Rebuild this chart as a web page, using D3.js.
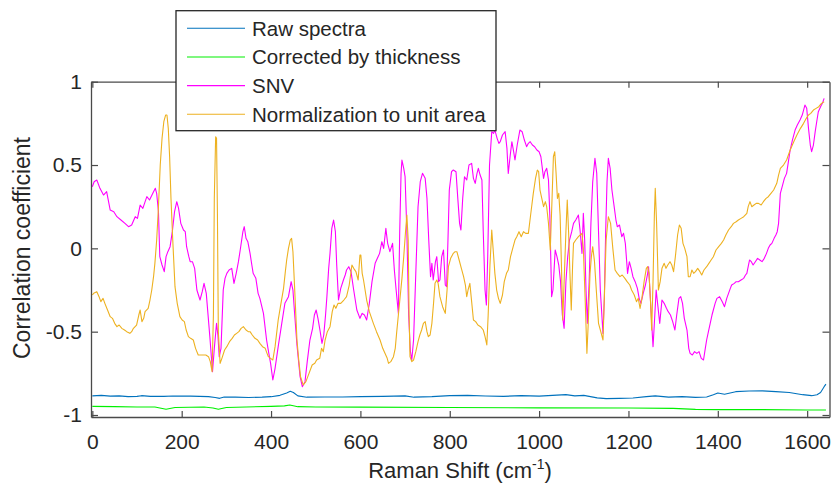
<!DOCTYPE html>
<html>
<head>
<meta charset="utf-8">
<script src="https://cdn.jsdelivr.net/npm/d3@7"></script>
<style>
  body { margin: 0; background: #fff; }
  svg text { font-family: "Liberation Sans", Arial, Helvetica, sans-serif; fill: #262626; }
</style>
</head>
<body>
<div id="chart"></div>
<script>
// series: [Raman shift, correlation coefficient]
var rawSpectra = [[0,-0.885],[20,-0.882],[40,-0.887],[60,-0.885],[80,-0.89],[100,-0.888],[110,-0.884],[130,-0.888],[160,-0.888],[180,-0.886],[220,-0.887],[260,-0.89],[275,-0.895],[285,-0.9],[295,-0.892],[320,-0.893],[350,-0.895],[380,-0.893],[400,-0.89],[420,-0.882],[435,-0.868],[443,-0.858],[450,-0.865],[460,-0.885],[480,-0.893],[520,-0.892],[560,-0.892],[600,-0.89],[650,-0.888],[700,-0.885],[720,-0.893],[760,-0.89],[800,-0.884],[840,-0.882],[880,-0.886],[920,-0.888],[960,-0.884],[1000,-0.887],[1030,-0.882],[1060,-0.878],[1080,-0.885],[1100,-0.882],[1130,-0.897],[1150,-0.902],[1180,-0.9],[1210,-0.898],[1240,-0.89],[1260,-0.885],[1290,-0.893],[1320,-0.89],[1350,-0.894],[1375,-0.892],[1390,-0.878],[1400,-0.868],[1415,-0.875],[1440,-0.86],[1470,-0.856],[1500,-0.855],[1530,-0.86],[1560,-0.865],[1590,-0.878],[1610,-0.884],[1622,-0.878],[1630,-0.865],[1638,-0.83],[1642,-0.815]];

var thickness = [[0,-0.948],[50,-0.95],[100,-0.952],[140,-0.952],[165,-0.965],[185,-0.955],[250,-0.952],[270,-0.958],[282,-0.966],[300,-0.955],[400,-0.948],[430,-0.945],[442,-0.94],[460,-0.95],[500,-0.952],[600,-0.953],[800,-0.955],[1000,-0.957],[1200,-0.958],[1300,-0.96],[1350,-0.966],[1400,-0.968],[1500,-0.968],[1600,-0.97],[1642,-0.97]];

var snv = [[0,0.37],[4,0.40],[10,0.41],[17,0.36],[25,0.32],[32,0.34],[40,0.23],[48,0.22],[55,0.19],[64,0.17],[73,0.15],[81,0.13],[88,0.14],[96,0.19],[101,0.18],[107,0.26],[113,0.24],[122,0.31],[128,0.29],[137,0.34],[141,0.36],[144,0.33],[148,0.22],[151,-0.05],[156,-0.10],[161,-0.14],[165,-0.05],[169,-0.02],[174,0.01],[179,0.10],[184,0.22],[189,0.28],[193,0.24],[198,0.15],[204,0.11],[208,0.10],[211,0.01],[216,-0.05],[219,-0.08],[224,-0.08],[229,-0.12],[234,-0.25],[241,-0.31],[246,-0.26],[250,-0.21],[255,-0.27],[259,-0.40],[263,-0.53],[269,-0.74],[273,-0.60],[278,-0.45],[281,-0.52],[284,-0.65],[288,-0.60],[293,-0.25],[297,-0.18],[301,-0.15],[306,-0.13],[312,-0.12],[317,-0.21],[322,-0.15],[327,-0.08],[331,-0.01],[337,0.10],[340,0.13],[344,0.06],[348,0.04],[353,-0.03],[357,-0.10],[360,-0.15],[366,-0.18],[371,-0.27],[375,-0.30],[383,-0.39],[390,-0.55],[395,-0.63],[399,-0.69],[404,-0.79],[409,-0.72],[416,-0.59],[424,-0.45],[431,-0.33],[439,-0.29],[445,-0.20],[449,-0.25],[453,-0.40],[458,-0.58],[465,-0.77],[470,-0.83],[476,-0.80],[481,-0.68],[487,-0.55],[493,-0.48],[497,-0.40],[501,-0.37],[505,-0.42],[510,-0.50],[514,-0.57],[518,-0.52],[522,-0.40],[525,-0.29],[529,-0.12],[532,-0.03],[536,0.12],[540,0.17],[544,0.10],[547,-0.10],[551,-0.31],[556,-0.24],[562,-0.19],[566,-0.16],[569,-0.13],[574,-0.11],[579,-0.14],[585,-0.25],[592,-0.37],[599,-0.42],[604,-0.39],[609,-0.40],[614,-0.43],[620,-0.33],[626,-0.20],[633,-0.09],[638,-0.06],[643,-0.03],[648,0.04],[652,0.00],[657,0.12],[661,0.03],[666,-0.02],[672,0.03],[676,-0.13],[680,-0.25],[685,-0.39],[688,0.10],[691,0.45],[693,0.53],[697,0.48],[700,0.43],[704,0.10],[708,-0.40],[712,-0.62],[715,-0.67],[719,-0.55],[724,-0.15],[729,0.25],[734,0.40],[739,0.45],[745,0.42],[749,0.30],[753,0.05],[757,-0.17],[760,-0.09],[763,-0.19],[768,-0.08],[771,-0.05],[775,-0.20],[778,-0.19],[782,-0.05],[786,-0.01],[790,-0.22],[793,-0.23],[796,0.05],[799,0.35],[804,0.46],[808,0.47],[814,0.46],[818,0.30],[822,0.15],[825,0.11],[829,0.30],[833,0.43],[838,0.41],[843,0.50],[849,0.51],[853,0.42],[857,0.39],[861,0.45],[864,0.48],[868,0.44],[872,0.41],[875,0.10],[879,-0.25],[882,-0.34],[885,-0.05],[889,0.50],[894,0.70],[898,0.69],[901,0.71],[906,0.66],[910,0.63],[913,0.64],[918,0.68],[924,0.70],[928,0.60],[931,0.45],[935,0.55],[939,0.64],[943,0.58],[946,0.53],[951,0.62],[957,0.71],[962,0.70],[967,0.65],[972,0.61],[976,0.63],[980,0.64],[985,0.62],[990,0.61],[995,0.59],[1000,0.58],[1004,0.55],[1010,0.42],[1013,0.46],[1017,0.48],[1021,0.41],[1024,0.20],[1028,-0.29],[1031,-0.25],[1036,-0.01],[1040,-0.05],[1044,-0.10],[1048,-0.20],[1052,-0.40],[1056,-0.48],[1060,-0.20],[1064,-0.05],[1068,0.05],[1073,0.10],[1077,0.15],[1082,0.17],[1088,0.20],[1092,0.10],[1096,-0.03],[1099,0.21],[1102,0.05],[1105,-0.25],[1108,-0.45],[1112,-0.20],[1116,0.15],[1120,0.40],[1125,0.54],[1129,0.45],[1133,0.10],[1137,-0.25],[1143,-0.51],[1146,-0.30],[1149,0.10],[1152,0.40],[1155,0.54],[1159,0.48],[1163,0.35],[1168,0.25],[1172,0.17],[1175,0.13],[1180,0.14],[1185,0.07],[1189,0.09],[1193,0.03],[1198,-0.15],[1202,-0.08],[1206,-0.12],[1210,-0.17],[1215,-0.20],[1220,-0.24],[1224,-0.30],[1228,-0.33],[1233,-0.27],[1238,-0.22],[1243,-0.15],[1245,-0.11],[1248,-0.25],[1252,-0.45],[1255,-0.59],[1258,-0.45],[1262,-0.25],[1266,-0.35],[1270,-0.45],[1275,-0.31],[1280,-0.33],[1285,-0.36],[1289,-0.38],[1294,-0.40],[1299,-0.44],[1304,-0.49],[1308,-0.40],[1313,-0.30],[1317,-0.29],[1321,-0.33],[1325,-0.42],[1331,-0.49],[1335,-0.60],[1338,-0.63],[1343,-0.64],[1348,-0.62],[1353,-0.63],[1358,-0.62],[1363,-0.66],[1368,-0.67],[1372,-0.60],[1375,-0.55],[1379,-0.50],[1383,-0.45],[1387,-0.40],[1390,-0.37],[1394,-0.33],[1398,-0.30],[1404,-0.29],[1410,-0.32],[1415,-0.35],[1420,-0.30],[1424,-0.27],[1428,-0.24],[1431,-0.22],[1437,-0.21],[1441,-0.20],[1446,-0.20],[1452,-0.19],[1458,-0.18],[1462,-0.16],[1465,-0.15],[1468,-0.11],[1471,-0.07],[1475,-0.08],[1479,-0.10],[1484,-0.08],[1489,-0.06],[1494,-0.07],[1499,-0.08],[1504,-0.06],[1509,-0.03],[1513,0.00],[1517,0.02],[1521,0.03],[1526,0.06],[1530,0.08],[1533,0.10],[1536,0.15],[1540,0.33],[1545,0.38],[1549,0.42],[1554,0.45],[1558,0.52],[1562,0.59],[1567,0.65],[1573,0.71],[1578,0.74],[1584,0.77],[1589,0.80],[1595,0.86],[1599,0.84],[1603,0.72],[1607,0.62],[1610,0.58],[1614,0.62],[1618,0.70],[1622,0.77],[1625,0.82],[1630,0.85],[1634,0.87],[1638,0.90]];

var unitArea = [[0,-0.28],[3,-0.27],[10,-0.26],[15,-0.29],[19,-0.32],[24,-0.30],[28,-0.33],[34,-0.37],[40,-0.41],[45,-0.42],[50,-0.45],[55,-0.47],[60,-0.46],[66,-0.48],[72,-0.49],[77,-0.50],[84,-0.51],[88,-0.50],[92,-0.48],[99,-0.46],[104,-0.40],[107,-0.37],[111,-0.44],[115,-0.42],[118,-0.38],[125,-0.36],[129,-0.31],[133,-0.25],[137,-0.17],[140,-0.09],[144,0.05],[148,0.25],[152,0.50],[156,0.66],[160,0.76],[164,0.80],[167,0.80],[170,0.72],[173,0.55],[176,0.30],[180,0.05],[185,-0.23],[190,-0.33],[196,-0.41],[201,-0.43],[206,-0.44],[210,-0.49],[215,-0.53],[220,-0.54],[226,-0.55],[231,-0.60],[237,-0.64],[243,-0.64],[248,-0.64],[254,-0.64],[260,-0.65],[264,-0.68],[268,-0.74],[271,-0.40],[273,0.30],[276,0.67],[278,0.66],[280,0.20],[282,-0.50],[286,-0.69],[290,-0.66],[296,-0.61],[301,-0.59],[307,-0.56],[313,-0.54],[318,-0.52],[323,-0.51],[328,-0.50],[333,-0.48],[338,-0.47],[344,-0.49],[349,-0.50],[353,-0.50],[358,-0.52],[364,-0.54],[370,-0.55],[375,-0.57],[381,-0.59],[387,-0.60],[391,-0.63],[394,-0.65],[399,-0.66],[404,-0.67],[409,-0.59],[416,-0.43],[421,-0.35],[428,-0.24],[432,-0.14],[435,-0.07],[439,0.00],[443,0.05],[446,0.06],[449,-0.02],[453,-0.25],[458,-0.55],[462,-0.67],[466,-0.77],[472,-0.82],[478,-0.80],[485,-0.75],[492,-0.70],[498,-0.69],[502,-0.67],[509,-0.66],[513,-0.60],[517,-0.62],[521,-0.55],[526,-0.50],[532,-0.47],[537,-0.38],[541,-0.34],[545,-0.36],[550,-0.33],[556,-0.33],[563,-0.31],[569,-0.29],[575,-0.22],[581,-0.10],[585,-0.12],[590,-0.14],[595,-0.19],[599,-0.04],[601,-0.04],[604,-0.15],[607,-0.19],[614,-0.31],[620,-0.38],[629,-0.45],[636,-0.50],[644,-0.55],[650,-0.60],[655,-0.63],[660,-0.66],[663,-0.69],[668,-0.68],[674,-0.65],[678,-0.60],[681,-0.51],[685,-0.40],[689,-0.29],[693,-0.18],[697,-0.05],[701,0.10],[704,0.20],[707,0.05],[709,-0.40],[711,-0.65],[715,-0.68],[719,-0.67],[724,-0.62],[729,-0.56],[733,-0.52],[737,-0.49],[741,-0.45],[745,-0.44],[749,-0.50],[752,-0.53],[756,-0.52],[760,-0.45],[764,-0.32],[767,-0.21],[771,-0.19],[774,-0.21],[778,-0.29],[784,-0.35],[790,-0.39],[794,-0.25],[797,-0.11],[802,-0.06],[808,-0.03],[812,-0.02],[816,-0.02],[821,-0.07],[826,-0.12],[831,-0.17],[835,-0.22],[838,-0.29],[841,-0.25],[845,-0.21],[849,-0.32],[853,-0.43],[858,-0.44],[863,-0.46],[869,-0.47],[875,-0.49],[879,-0.53],[883,-0.58],[886,-0.40],[890,-0.10],[894,0.11],[897,0.00],[901,-0.15],[905,-0.25],[909,-0.30],[913,-0.33],[918,-0.28],[922,-0.20],[927,-0.15],[931,-0.13],[936,-0.05],[942,0.01],[946,0.05],[950,0.07],[955,0.10],[960,0.07],[965,0.10],[970,0.09],[976,0.09],[981,0.20],[987,0.33],[992,0.42],[996,0.47],[999,0.46],[1002,0.35],[1006,0.30],[1010,0.25],[1014,0.28],[1017,0.25],[1021,0.15],[1025,-0.01],[1029,0.30],[1032,0.55],[1035,0.58],[1038,0.45],[1041,0.30],[1044,0.33],[1047,0.20],[1050,-0.10],[1053,-0.43],[1056,-0.20],[1060,0.10],[1063,0.29],[1066,0.10],[1069,-0.15],[1072,-0.37],[1075,-0.10],[1077,0.03],[1082,0.05],[1088,0.07],[1092,0.08],[1096,0.09],[1099,0.00],[1103,-0.30],[1107,-0.63],[1110,-0.45],[1114,-0.15],[1117,-0.05],[1120,0.01],[1124,-0.08],[1128,-0.25],[1133,-0.45],[1138,-0.50],[1143,-0.55],[1146,-0.30],[1150,0.05],[1155,0.19],[1160,0.15],[1165,0.00],[1170,-0.13],[1175,-0.15],[1181,-0.17],[1186,-0.16],[1192,-0.18],[1197,-0.20],[1203,-0.22],[1207,-0.25],[1213,-0.28],[1218,-0.32],[1222,-0.30],[1226,-0.36],[1230,-0.30],[1235,-0.20],[1240,-0.12],[1243,-0.11],[1246,-0.15],[1249,-0.30],[1252,-0.49],[1255,-0.20],[1258,0.20],[1260,0.36],[1263,0.15],[1267,-0.25],[1271,-0.20],[1275,-0.12],[1280,-0.09],[1284,-0.12],[1288,-0.10],[1293,-0.08],[1297,-0.10],[1301,-0.14],[1305,-0.05],[1310,0.08],[1314,0.14],[1318,0.12],[1322,0.03],[1326,0.00],[1331,-0.05],[1334,-0.17],[1338,-0.17],[1342,-0.13],[1346,-0.15],[1350,-0.14],[1355,-0.12],[1360,-0.14],[1364,-0.16],[1369,-0.13],[1375,-0.11],[1380,-0.09],[1385,-0.07],[1390,-0.05],[1396,-0.01],[1402,0.01],[1408,0.03],[1413,0.05],[1418,0.08],[1424,0.11],[1430,0.13],[1435,0.15],[1441,0.16],[1446,0.17],[1452,0.18],[1458,0.19],[1465,0.21],[1468,0.25],[1472,0.28],[1476,0.25],[1481,0.26],[1486,0.27],[1491,0.27],[1497,0.26],[1502,0.28],[1508,0.30],[1513,0.31],[1519,0.33],[1525,0.35],[1532,0.39],[1536,0.44],[1540,0.48],[1547,0.50],[1554,0.53],[1562,0.59],[1570,0.64],[1577,0.68],[1585,0.72],[1592,0.75],[1598,0.78],[1603,0.80],[1608,0.81],[1614,0.83],[1620,0.84],[1626,0.85],[1632,0.87],[1638,0.88]];

var seriesNames = ["Raw spectra", "Corrected by thickness", "SNV", "Normalization to unit area"];
var seriesColors = ["#0072BD", "#00F000", "#FF00FF", "#EDB120"];
var xTicks = [0, 200, 400, 600, 800, 1000, 1200, 1400, 1600];
var yTicks = [-1, -0.5, 0, 0.5, 1];

var width = 834, height = 483;
var margin = {top: 81.7, right: 4.5, bottom: 66, left: 91};

var svg = d3.select("#chart").append("svg")
    .attr("width", width)
    .attr("height", height);

var x = d3.scaleLinear().domain([-3, 1650]).range([margin.left, width - margin.right]);
var y = d3.scaleLinear().domain([-1.012, 1]).range([height - margin.bottom, margin.top]);

svg.append("defs").append("clipPath").attr("id", "plot")
  .append("rect")
    .attr("x", margin.left).attr("y", margin.top)
    .attr("width", width - margin.left - margin.right)
    .attr("height", height - margin.top - margin.bottom);

var line = d3.line().x(d => x(d[0])).y(d => y(d[1]));

// lines, in plotting order
var allSeries = [rawSpectra, thickness, snv, unitArea];
svg.append("g").attr("clip-path", "url(#plot)")
  .selectAll("path")
  .data(allSeries)
  .enter().append("path")
    .attr("d", line)
    .attr("fill", "none")
    .attr("stroke", (d, i) => seriesColors[i])
    .attr("stroke-width", 1.1)
    .attr("stroke-linejoin", "round");

// axes, ticks pointing inward on all four sides
var axisColor = "#4a4a4a";
var plain = d => String(d);   // matlab style: plain hyphen, no thousands separator
function styleAxis(g) {
  g.select(".domain").attr("stroke", axisColor).attr("stroke-width", 1.3);
  g.selectAll(".tick line").attr("stroke", axisColor).attr("stroke-width", 1.2);
  g.selectAll(".tick text").attr("fill", "#262626").style("font-size", "21px")
    .attr("font-family", null);
}

svg.append("g")
    .attr("transform", "translate(0," + (height - margin.bottom) + ")")
    .call(d3.axisBottom(x).tickValues(xTicks).tickSizeInner(-6).tickSizeOuter(0).tickPadding(17).tickFormat(plain))
    .call(styleAxis);

svg.append("g")
    .attr("transform", "translate(0," + margin.top + ")")
    .call(d3.axisTop(x).tickValues(xTicks).tickSizeInner(-6).tickSizeOuter(0).tickFormat(""))
    .call(styleAxis);

svg.append("g")
    .attr("transform", "translate(" + margin.left + ",0)")
    .call(d3.axisLeft(y).tickValues(yTicks).tickSizeInner(-7).tickSizeOuter(0).tickPadding(9).tickFormat(plain))
    .call(styleAxis);

svg.append("g")
    .attr("transform", "translate(" + (width - margin.right) + ",0)")
    .call(d3.axisRight(y).tickValues(yTicks).tickSizeInner(-7).tickSizeOuter(0).tickFormat(""))
    .call(styleAxis);

// axis labels
var xl = svg.append("text")
    .attr("x", 460).attr("y", 478)
    .attr("text-anchor", "middle")
    .style("font-size", "22px");
xl.append("tspan").text("Raman Shift (cm");
xl.append("tspan").text("-1").attr("dy", -9).style("font-size", "14px");
xl.append("tspan").text(")").attr("dy", 9);

svg.append("text")
    .attr("transform", "translate(30,248)rotate(-90)")
    .attr("text-anchor", "middle")
    .style("font-size", "23px")
    .text("Correlation coefficient");

// legend
var legend = svg.append("g");
legend.append("rect")
    .attr("x", 176).attr("y", 10.7)
    .attr("width", 320).attr("height", 120)
    .attr("fill", "#fff")
    .attr("stroke", "#262626")
    .attr("stroke-width", 1.3);

var rowY = d3.scalePoint().domain(seriesNames).range([28.3, 114.3]);
var rows = legend.selectAll(".entry")
  .data(seriesNames)
  .enter().append("g")
    .attr("class", "entry")
    .attr("transform", d => "translate(0," + rowY(d) + ")");

rows.append("line")
    .attr("x1", 187).attr("x2", 245)
    .attr("stroke", (d, i) => seriesColors[i])
    .attr("stroke-width", 1.1);

rows.append("text")
    .attr("x", 252)
    .attr("dy", "0.36em")
    .style("font-size", "20.5px")
    .text(d => d);
</script>
</body>
</html>
